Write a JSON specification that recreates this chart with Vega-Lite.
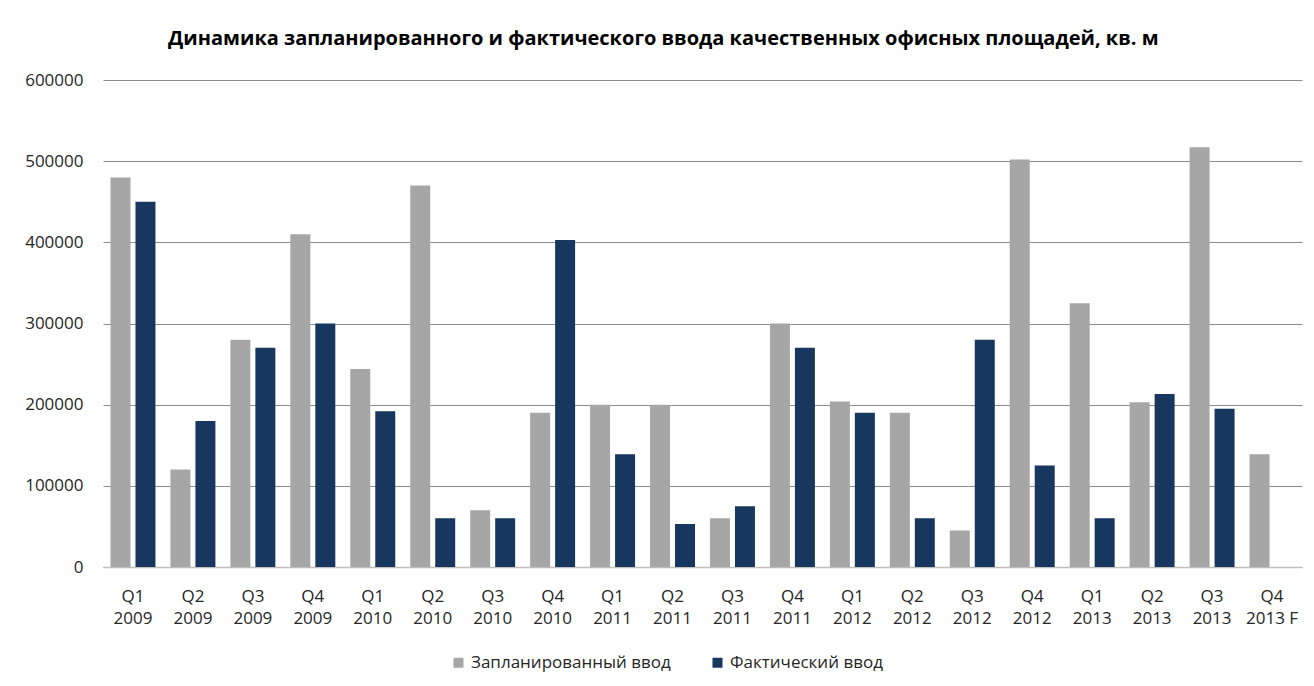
{
  "$schema": "https://vega.github.io/schema/vega-lite/v6.json",
  "width": 1199,
  "height": 487,
  "autosize": {"type": "none"},
  "padding": {"left": 103, "top": 80, "right": 12, "bottom": 119},
  "background": "white",
  "title": {
    "text": "Динамика запланированного и фактического ввода качественных офисных площадей, кв. м",
    "anchor": "middle",
    "frame": "bounds",
    "font": "Open Sans",
    "fontSize": 20,
    "fontWeight": "bold",
    "color": "#000000",
    "offset": 22
  },
  "data": {
    "values": [
      {"q": "Q1 2009", "series": "Запланированный ввод", "value": 480000},
      {"q": "Q1 2009", "series": "Фактический ввод", "value": 450000},
      {"q": "Q2 2009", "series": "Запланированный ввод", "value": 120000},
      {"q": "Q2 2009", "series": "Фактический ввод", "value": 180000},
      {"q": "Q3 2009", "series": "Запланированный ввод", "value": 280000},
      {"q": "Q3 2009", "series": "Фактический ввод", "value": 270000},
      {"q": "Q4 2009", "series": "Запланированный ввод", "value": 410000},
      {"q": "Q4 2009", "series": "Фактический ввод", "value": 300000},
      {"q": "Q1 2010", "series": "Запланированный ввод", "value": 244000},
      {"q": "Q1 2010", "series": "Фактический ввод", "value": 192000},
      {"q": "Q2 2010", "series": "Запланированный ввод", "value": 470000},
      {"q": "Q2 2010", "series": "Фактический ввод", "value": 60000},
      {"q": "Q3 2010", "series": "Запланированный ввод", "value": 70000},
      {"q": "Q3 2010", "series": "Фактический ввод", "value": 60000},
      {"q": "Q4 2010", "series": "Запланированный ввод", "value": 190000},
      {"q": "Q4 2010", "series": "Фактический ввод", "value": 403000},
      {"q": "Q1 2011", "series": "Запланированный ввод", "value": 200000},
      {"q": "Q1 2011", "series": "Фактический ввод", "value": 139000},
      {"q": "Q2 2011", "series": "Запланированный ввод", "value": 200000},
      {"q": "Q2 2011", "series": "Фактический ввод", "value": 53000},
      {"q": "Q3 2011", "series": "Запланированный ввод", "value": 60000},
      {"q": "Q3 2011", "series": "Фактический ввод", "value": 75000},
      {"q": "Q4 2011", "series": "Запланированный ввод", "value": 300000},
      {"q": "Q4 2011", "series": "Фактический ввод", "value": 270000},
      {"q": "Q1 2012", "series": "Запланированный ввод", "value": 204000},
      {"q": "Q1 2012", "series": "Фактический ввод", "value": 190000},
      {"q": "Q2 2012", "series": "Запланированный ввод", "value": 190000},
      {"q": "Q2 2012", "series": "Фактический ввод", "value": 60000},
      {"q": "Q3 2012", "series": "Запланированный ввод", "value": 45000},
      {"q": "Q3 2012", "series": "Фактический ввод", "value": 280000},
      {"q": "Q4 2012", "series": "Запланированный ввод", "value": 502000},
      {"q": "Q4 2012", "series": "Фактический ввод", "value": 125000},
      {"q": "Q1 2013", "series": "Запланированный ввод", "value": 325000},
      {"q": "Q1 2013", "series": "Фактический ввод", "value": 60000},
      {"q": "Q2 2013", "series": "Запланированный ввод", "value": 203000},
      {"q": "Q2 2013", "series": "Фактический ввод", "value": 213000},
      {"q": "Q3 2013", "series": "Запланированный ввод", "value": 517000},
      {"q": "Q3 2013", "series": "Фактический ввод", "value": 195000},
      {"q": "Q4 2013 F", "series": "Запланированный ввод", "value": 139000}
    ]
  },
  "mark": {"type": "bar"},
  "encoding": {
    "x": {
      "field": "q",
      "type": "nominal",
      "sort": null,
      "title": null,
      "scale": {"paddingInner": 0.25, "paddingOuter": 0.125},
      "axis": {
        "labelAngle": 0,
        "labelExpr": "[slice(datum.label, 0, 2), slice(datum.label, 3)]",
        "labelFont": "Open Sans",
        "labelFontSize": 17,
        "labelColor": "#262626",
        "labelLineHeight": 22,
        "labelPadding": 21,
        "ticks": false,
        "domain": true,
        "domainColor": "#BFBFBF",
        "domainWidth": 1.5,
        "grid": false
      }
    },
    "xOffset": {
      "field": "series",
      "type": "nominal",
      "scale": {"domain": ["Запланированный ввод", "Фактический ввод"], "paddingInner": 0.2}
    },
    "y": {
      "field": "value",
      "type": "quantitative",
      "title": null,
      "scale": {"domain": [0, 600000], "nice": false},
      "axis": {
        "values": [0, 100000, 200000, 300000, 400000, 500000, 600000],
        "format": "d",
        "labelFont": "Open Sans",
        "labelFontSize": 17,
        "labelColor": "#262626",
        "labelPadding": 20,
        "ticks": false,
        "domain": false,
        "grid": true,
        "gridColor": "#8C8C8C",
        "gridWidth": 1
      }
    },
    "color": {
      "field": "series",
      "type": "nominal",
      "title": null,
      "scale": {
        "domain": ["Запланированный ввод", "Фактический ввод"],
        "range": ["#A6A6A6", "#17375E"]
      },
      "legend": {
        "orient": "none",
        "direction": "horizontal",
        "legendX": 347,
        "legendY": 574,
        "symbolType": "square",
        "symbolSize": 100,
        "symbolStrokeWidth": 0,
        "labelFont": "Open Sans",
        "labelFontSize": 17,
        "labelLimit": 400,
        "labelColor": "#262626",
        "labelOffset": 4,
        "columnPadding": 38
      }
    }
  },
  "config": {
    "view": {"stroke": null}
  }
}
